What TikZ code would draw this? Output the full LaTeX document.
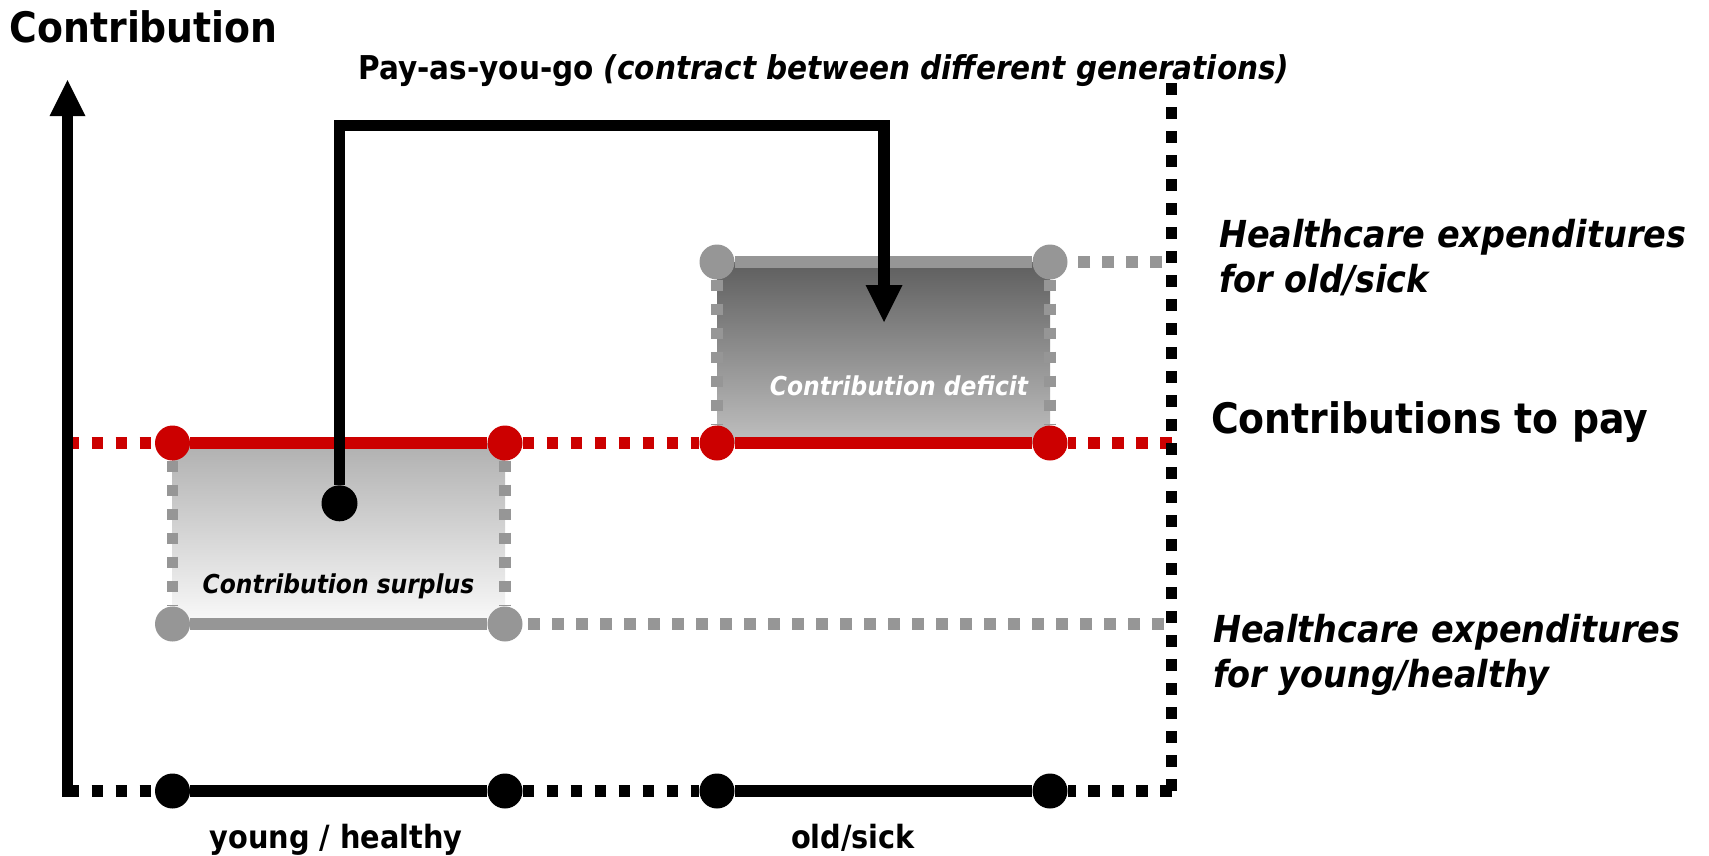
\documentclass[tikz,border=0pt]{standalone}
\usepackage{fontspec}
\setmainfont{DejaVu Sans Condensed}
\usetikzlibrary{arrows.meta}
\definecolor{payred}{HTML}{CC0000}
\definecolor{expgray}{HTML}{969696}
\newcommand\titlefont{\fontsize{42}{46}\selectfont\bfseries}
\newcommand\headfont{\fontsize{32}{38}\selectfont\bfseries}
\newcommand\notefont{\fontsize{37.2}{45}\selectfont\bfseries\itshape}
\newcommand\boxfont{\fontsize{26}{30}\selectfont\bfseries\itshape}
\begin{document}
\begin{tikzpicture}[x=1pt,y=-1pt,inner sep=0pt,
    dot/.style={circle,minimum size=35pt,fill=#1},
    solidline/.style={line width=11.7pt,draw=#1},
    dotline/.style={line width=11.7pt,draw=#1,dash pattern=on 11.7pt off 12.3pt},
    axisline/.style={line width=11.7pt,line cap=rect,
      -{Triangle[width=36pt,length=36pt,line width=0pt]}},
    flowline/.style={line width=11.7pt,line join=miter,
      -{Triangle[width=37pt,length=37pt,line width=0pt]}}]
  \useasboundingbox (0,0) rectangle (1709,855);
  % surplus and deficit areas
  \shade[top color=black!31,bottom color=black!2] (172.5,443) rectangle (505,624);
  \shade[top color=black!63,bottom color=black!25] (717,262) rectangle (1050,443);
  % corner points
  \coordinate (o) at (67.5,791);
  \coordinate (ytip) at (67.5,80);
  \coordinate (rtop) at (1171.5,83.3);
  \coordinate (xend) at (1171.5,791);
  \coordinate (redstart) at (67.5,443);
  \coordinate (redend) at (1171.5,443);
  \coordinate (grayend1) at (1162,262);
  \coordinate (grayend2) at (1164,624);
  \coordinate (turn) at (884,125.5);
  \coordinate (tgt) at (884,322);
  % dots
  \foreach \n/\x in {1/172.5,2/505,3/717,4/1050}
    \node[dot=black] (b\n) at (\x,791) {};
  \foreach \n/\x in {1/172.5,2/505,3/717,4/1050}
    \node[dot=payred] (r\n) at (\x,443) {};
  \node[dot=expgray] (g1) at (172.5,624) {};
  \node[dot=expgray] (g2) at (505,624) {};
  \node[dot=expgray] (g3) at (717,262) {};
  \node[dot=expgray] (g4) at (1050,262) {};
  \node[dot=black,minimum size=36pt] (src) at (339.5,503.3) {};
  % expenditure lines
  \draw[dotline=expgray] (r1) -- (g1) (r2) -- (g2) (g3) -- (r3) (g4) -- (r4);
  \draw[dotline=expgray] (grayend1) -- (g4);
  \draw[dotline=expgray] (grayend2) -- (g2);
  \draw[solidline=expgray] (g1) -- (g2) (g3) -- (g4);
  % contributions
  \draw[dotline=payred] (redstart) -- (r1) (r2) -- (r3) (redend) -- (r4);
  \draw[solidline=payred] (r1) -- (r2) (r3) -- (r4);
  % axes
  \draw[dotline=black] (rtop) -- (xend);
  \draw[dotline=black] (o) -- (b1) (b2) -- (b3) (xend) -- (b4);
  \draw[solidline=black] (b1) -- (b2) (b3) -- (b4);
  \draw[axisline] (o) -- (ytip);
  \draw[flowline] (src) |- (turn) -- (tgt);
  % labels
  \node[anchor=base west,font=\titlefont] (ytitle) at (9.5,42.7) {Contribution};
  \node[anchor=base west,font=\headfont\fontsize{32.8}{38}\selectfont] (paygo) at (358.5,79)
    {Pay-as-you-go \textit{(contract between different generations)}};
  \node[anchor=north west,align=left,font=\notefont] (oldexp) at (1219,219)
    {Healthcare expenditures\\for old/sick};
  \node[anchor=base west,font=\titlefont] (topay) at (1211,433) {Contributions to pay};
  \node[anchor=north west,align=left,font=\notefont] (youngexp) at (1213,614)
    {Healthcare expenditures\\for young/healthy};
  \node[anchor=base,font=\boxfont] (surplus) at (338.5,593) {Contribution surplus};
  \node[anchor=base,font=\boxfont,text=white] (deficit) at (899,395.5) {Contribution deficit};
  \node[anchor=base,font=\headfont] (young) at (336,848) {young / healthy};
  \node[anchor=base,font=\headfont] (old) at (853,848) {old/sick};
\end{tikzpicture}
\end{document}
